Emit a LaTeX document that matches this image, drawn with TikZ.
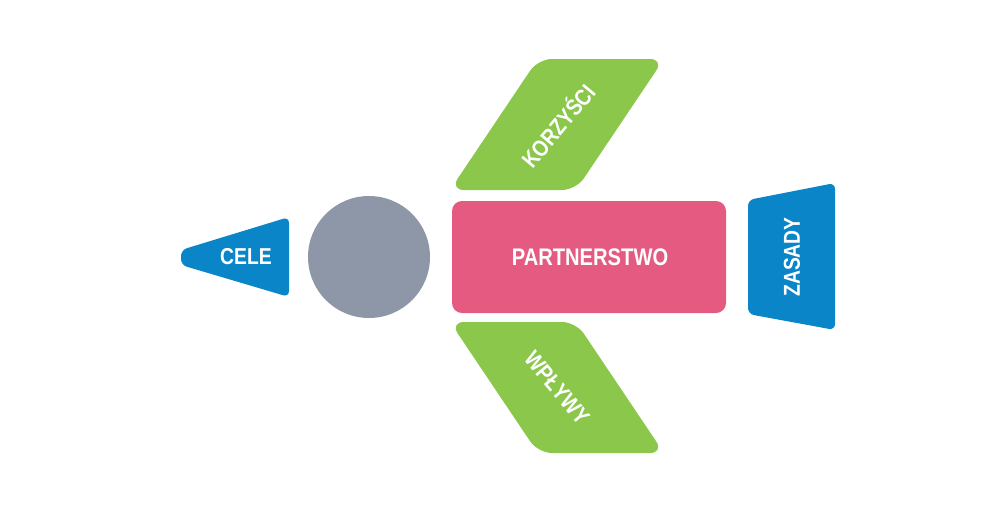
\documentclass[tikz,border=0pt]{standalone}
\usepackage{fontspec}
\newfontfamily\etykieta{Liberation Sans}[FakeStretch=0.84]
\definecolor{niebieski}{HTML}{0A85C8}
\definecolor{zielony}{HTML}{8BC74B}
\definecolor{rozowy}{HTML}{E55A80}
\definecolor{szary}{HTML}{8E97A8}
\tikzset{
  napis/.style={text=white, font=\etykieta\bfseries\fontsize{23}{23}\selectfont, inner sep=0pt}
}
\begin{document}
\begin{tikzpicture}[x=1pt,y=-1pt]
\useasboundingbox (0,0) rectangle (999,520);

% Cele
\fill[niebieski, rounded corners=6pt]
(181,250) -- (289,217) -- (289,297) -- (181,265) -- cycle;
\node[napis] (cele) at (246,257) {CELE};

% Kolo
\fill[szary] (369,257) circle (61);

% Partnerstwo
\fill[rozowy, rounded corners=10pt] (452,201) rectangle (726,313);
\node[napis, font=\etykieta\bfseries\fontsize{24}{24}\selectfont] (partnerstwo) at (590,257) {PARTNERSTWO};

% Zasady
\fill[niebieski, rounded corners=6pt]
(748,200) -- (835,183) -- (835,330) -- (748,314) -- cycle;
\node[napis, rotate=90] (zasady) at (792,257) {ZASADY};

% Korzysci
\fill[zielony, rounded corners=14pt]
(450,190) -- (538,59) -- (664,59) -- (576,190) -- cycle;
\node[napis, rotate=50] (korzysci) at (557,125) {KORZYŚCI};

% Wplywy
\fill[zielony, rounded corners=14pt]
(450,322) -- (576,322) -- (664,453) -- (538,453) -- cycle;
\node[napis, rotate=-50] (wplywy) at (557,388) {WPŁYWY};

\end{tikzpicture}
\end{document}
